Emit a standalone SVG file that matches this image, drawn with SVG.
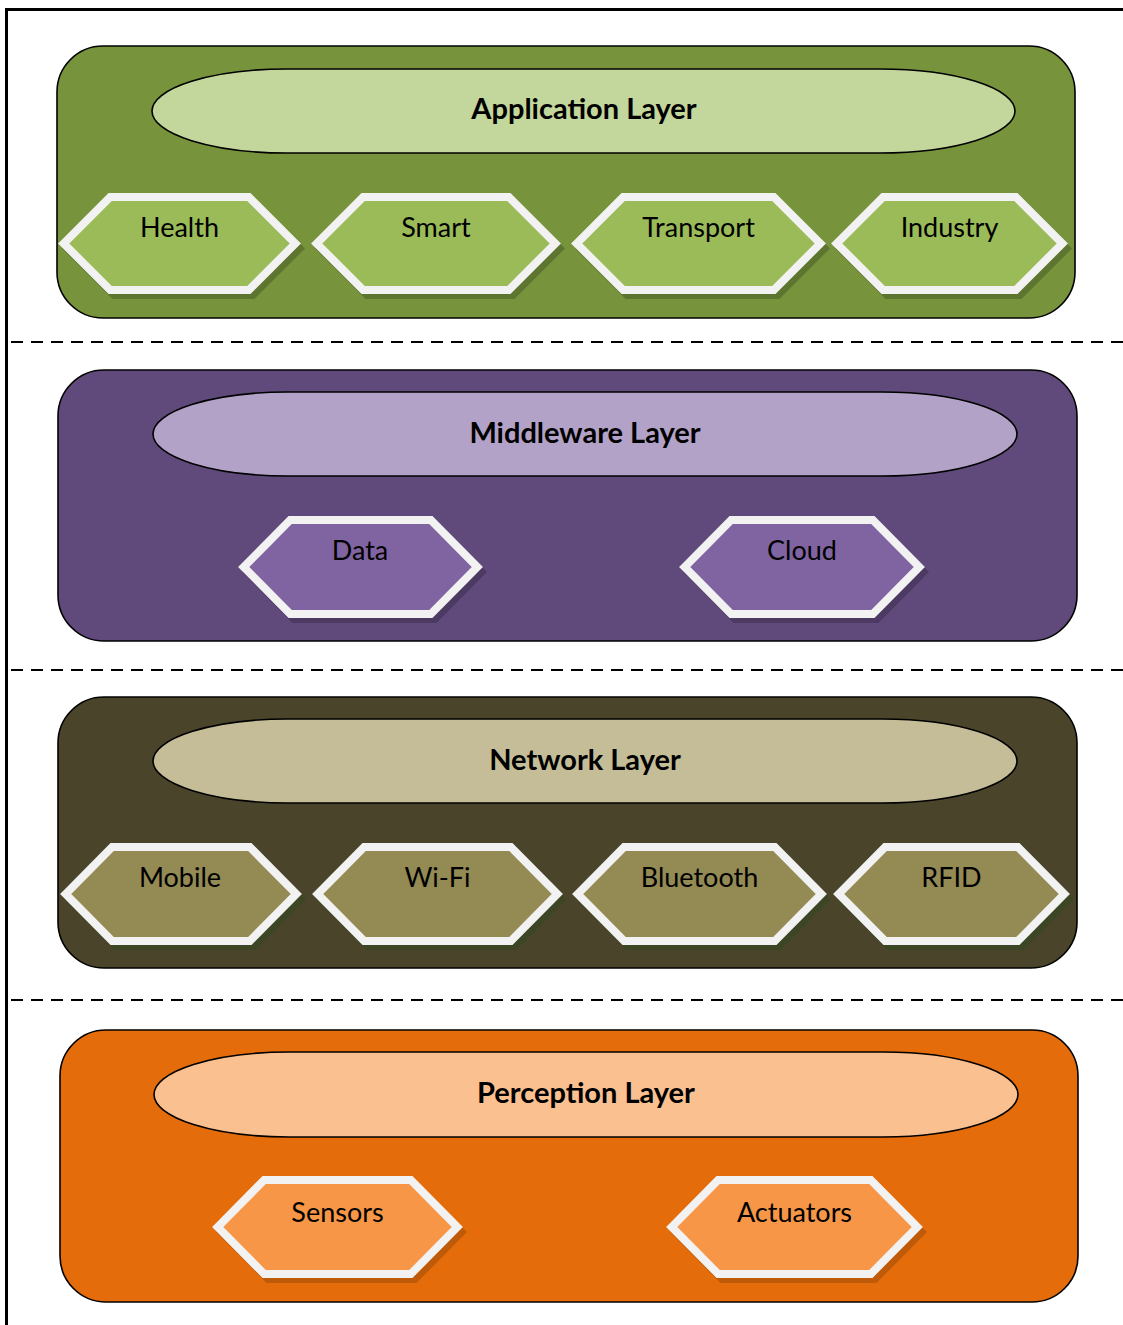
<svg xmlns="http://www.w3.org/2000/svg" width="1123" height="1325" viewBox="0 0 1123 1325">
  <style>
    .box { stroke: #000; stroke-width: 1.6; }
    .ell { stroke: #000; stroke-width: 1.6; }
    .hex { stroke: #F2F2F2; stroke-width: 8; stroke-linejoin: miter; }
    .sh { stroke-width: 8; stroke-linejoin: miter; }
    .title { font-family: Lato, "Liberation Sans", sans-serif; font-weight: bold; font-size: 29px; fill: #000; text-anchor: middle; }
    .lbl { font-family: Lato, "Liberation Sans", sans-serif; font-size: 27px; fill: #000; text-anchor: middle; }
    .sep { stroke: #000; stroke-width: 2; stroke-dasharray: 12 8; fill: none; }
    .app .bg { fill: #77933C; } .app .ov { fill: #C3D69B; } .app .hx { fill: #9BBB59; } .app .sh { fill: #5E7530; stroke: #5E7530; }
    .mid .bg { fill: #604A7B; } .mid .ov { fill: #B3A2C7; } .mid .hx { fill: #8064A2; } .mid .sh { fill: #4C3A63; stroke: #4C3A63; }
    .net .bg { fill: #4A452A; } .net .ov { fill: #C4BD97; } .net .hx { fill: #948A54; } .net .sh { fill: #3C4624; stroke: #3C4624; }
    .per .bg { fill: #E46C0A; } .per .ov { fill: #FAC090; } .per .hx { fill: #F79646; } .per .sh { fill: #BF5A08; stroke: #BF5A08; }
  </style>

  <rect width="1123" height="1325" fill="#fff"/>
  <!-- outer frame -->
  <line x1="6.5" y1="8" x2="6.5" y2="1325" stroke="#000" stroke-width="3"/>
  <line x1="5" y1="9.5" x2="1123" y2="9.5" stroke="#000" stroke-width="3"/>

  <g id="connectors">
    <line class="sep" x1="11" y1="342" x2="1123" y2="342"/>
    <line class="sep" x1="11" y1="670" x2="1123" y2="670"/>
    <line class="sep" x1="11" y1="1000" x2="1123" y2="1000"/>
  </g>

  <!-- Application Layer -->
  <g id="application-layer" class="app">
    <rect class="bg box" x="57" y="46" width="1018" height="272" rx="46" ry="46"/>
    <rect class="ov ell" x="152" y="69" width="863" height="84" rx="135" ry="42"/>
    <text class="title" x="584" y="119">Application Layer</text>
  </g>
  <g id="health" class="app" transform="translate(58,193)">
    <polygon class="sh" transform="translate(4,5)" points="5.7,50.5 52.2,4 190.8,4 237.3,50.5 190.8,97 52.2,97"/>
    <polygon class="hx hex" points="5.7,50.5 52.2,4 190.8,4 237.3,50.5 190.8,97 52.2,97"/>
    <text class="lbl" x="121.5" y="44">Health</text>
  </g>
  <g id="smart" class="app" transform="translate(311,193)">
    <polygon class="sh" transform="translate(4,5)" points="5.7,50.5 52.2,4 197.8,4 244.3,50.5 197.8,97 52.2,97"/>
    <polygon class="hx hex" points="5.7,50.5 52.2,4 197.8,4 244.3,50.5 197.8,97 52.2,97"/>
    <text class="lbl" x="125" y="44">Smart</text>
  </g>
  <g id="transport" class="app" transform="translate(571,193)">
    <polygon class="sh" transform="translate(4,5)" points="5.7,50.5 52.2,4 202.8,4 249.3,50.5 202.8,97 52.2,97"/>
    <polygon class="hx hex" points="5.7,50.5 52.2,4 202.8,4 249.3,50.5 202.8,97 52.2,97"/>
    <text class="lbl" x="127.5" y="44">Transport</text>
  </g>
  <g id="industry" class="app" transform="translate(831,193)">
    <polygon class="sh" transform="translate(4,5)" points="5.7,50.5 52.2,4 184.8,4 231.3,50.5 184.8,97 52.2,97"/>
    <polygon class="hx hex" points="5.7,50.5 52.2,4 184.8,4 231.3,50.5 184.8,97 52.2,97"/>
    <text class="lbl" x="118.5" y="44">Industry</text>
  </g>

  <!-- Middleware Layer -->
  <g id="middleware-layer" class="mid">
    <rect class="bg box" x="58" y="370" width="1019" height="271" rx="46" ry="46"/>
    <rect class="ov ell" x="153" y="392" width="864" height="84" rx="135" ry="42"/>
    <text class="title" x="585" y="443">Middleware Layer</text>
  </g>
  <g id="data" class="mid" transform="translate(238,516)">
    <polygon class="sh" transform="translate(4,5)" points="5.7,51 52.2,4 192.8,4 239.3,51 192.8,98 52.2,98"/>
    <polygon class="hx hex" points="5.7,51 52.2,4 192.8,4 239.3,51 192.8,98 52.2,98"/>
    <text class="lbl" x="122" y="44">Data</text>
  </g>
  <g id="cloud" class="mid" transform="translate(679,516)">
    <polygon class="sh" transform="translate(4,5)" points="5.7,51 52.2,4 193.8,4 240.3,51 193.8,98 52.2,98"/>
    <polygon class="hx hex" points="5.7,51 52.2,4 193.8,4 240.3,51 193.8,98 52.2,98"/>
    <text class="lbl" x="123" y="44">Cloud</text>
  </g>

  <!-- Network Layer -->
  <g id="network-layer" class="net">
    <rect class="bg box" x="58" y="697" width="1019" height="271" rx="46" ry="46"/>
    <rect class="ov ell" x="153" y="719" width="864" height="84" rx="135" ry="42"/>
    <text class="title" x="585" y="770">Network Layer</text>
  </g>
  <g id="mobile" class="net" transform="translate(60,843)">
    <polygon class="sh" transform="translate(4,5)" points="5.7,51 52.2,4 189.8,4 236.3,51 189.8,98 52.2,98"/>
    <polygon class="hx hex" points="5.7,51 52.2,4 189.8,4 236.3,51 189.8,98 52.2,98"/>
    <text class="lbl" x="120" y="44">Mobile</text>
  </g>
  <g id="wifi" class="net" transform="translate(312,843)">
    <polygon class="sh" transform="translate(4,5)" points="5.7,51 52.2,4 198.8,4 245.3,51 198.8,98 52.2,98"/>
    <polygon class="hx hex" points="5.7,51 52.2,4 198.8,4 245.3,51 198.8,98 52.2,98"/>
    <text class="lbl" x="125.5" y="44">Wi-Fi</text>
  </g>
  <g id="bluetooth" class="net" transform="translate(572,843)">
    <polygon class="sh" transform="translate(4,5)" points="5.7,51 52.2,4 202.8,4 249.3,51 202.8,98 52.2,98"/>
    <polygon class="hx hex" points="5.7,51 52.2,4 202.8,4 249.3,51 202.8,98 52.2,98"/>
    <text class="lbl" x="127.5" y="44">Bluetooth</text>
  </g>
  <g id="rfid" class="net" transform="translate(833,843)">
    <polygon class="sh" transform="translate(4,5)" points="5.7,51 52.2,4 184.8,4 231.3,51 184.8,98 52.2,98"/>
    <polygon class="hx hex" points="5.7,51 52.2,4 184.8,4 231.3,51 184.8,98 52.2,98"/>
    <text class="lbl" x="118.5" y="44">RFID</text>
  </g>

  <!-- Perception Layer -->
  <g id="perception-layer" class="per">
    <rect class="bg box" x="60" y="1030" width="1018" height="272" rx="46" ry="46"/>
    <rect class="ov ell" x="154" y="1052" width="864" height="85" rx="135" ry="42.5"/>
    <text class="title" x="586" y="1103">Perception Layer</text>
  </g>
  <g id="sensors" class="per" transform="translate(212,1176)">
    <polygon class="sh" transform="translate(4,5)" points="5.7,51 52.2,4 198.8,4 245.3,51 198.8,98 52.2,98"/>
    <polygon class="hx hex" points="5.7,51 52.2,4 198.8,4 245.3,51 198.8,98 52.2,98"/>
    <text class="lbl" x="125.5" y="46">Sensors</text>
  </g>
  <g id="actuators" class="per" transform="translate(666,1176)">
    <polygon class="sh" transform="translate(4,5)" points="5.7,51 52.2,4 204.8,4 251.3,51 204.8,98 52.2,98"/>
    <polygon class="hx hex" points="5.7,51 52.2,4 204.8,4 251.3,51 204.8,98 52.2,98"/>
    <text class="lbl" x="128.5" y="46">Actuators</text>
  </g>
</svg>
